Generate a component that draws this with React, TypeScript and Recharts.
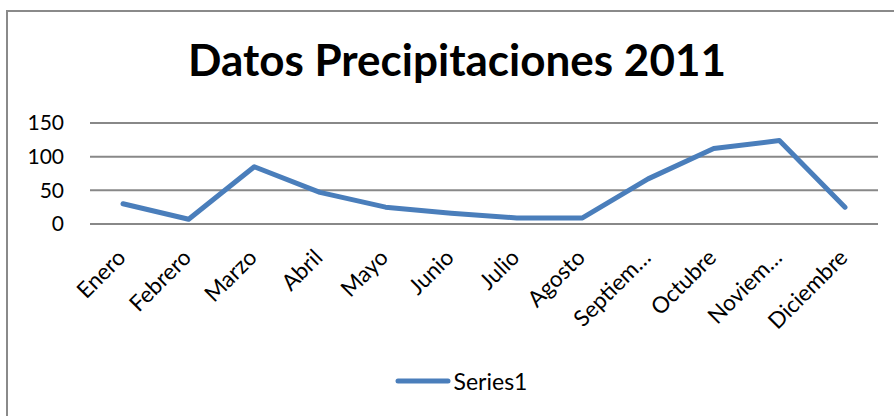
import React from 'react';
import { LineChart, Line, XAxis, YAxis, CartesianGrid, Legend } from 'recharts';

const months = ['Enero', 'Febrero', 'Marzo', 'Abril', 'Mayo', 'Junio', 'Julio', 'Agosto', 'Septiembre', 'Octubre', 'Noviembre', 'Diciembre'];
const tickLabels = ['Enero', 'Febrero', 'Marzo', 'Abril', 'Mayo', 'Junio', 'Julio', 'Agosto', 'Septiem…', 'Octubre', 'Noviem…', 'Diciembre'];
const series1 = [30, 7, 85, 47, 25, 16, 9, 9, 67, 112, 124, 25];
const yTicks = [0, 50, 100, 150];
const title = 'Datos Precipitaciones 2011';
const seriesName = 'Series1';

const data = months.map((m, i) => ({ month: m, label: tickLabels[i], Series1: series1[i] }));

const FONT = 'Lato, "Open Sans", sans-serif';
const BLUE = '#4a7ebb';
const GRID = '#888888';

const XTick = (props: any) => {
  const { x, y, index } = props;
  const ax = x + 4;
  const ay = y + 35;
  return (
    <text
      x={ax}
      y={ay}
      textAnchor="end"
      fontFamily={FONT}
      fontSize={22.5}
      fill="#000"
      transform={`rotate(-45 ${ax} ${ay})`}
    >
      {tickLabels[index]}
    </text>
  );
};

const LegendContent = () => (
  <div style={{ display: 'flex', alignItems: 'center', justifyContent: 'center', fontFamily: FONT, fontSize: 23, color: '#000' }}>
    <svg width={56} height={10} style={{ marginRight: 3 }}>
      <line x1={3} y1={5} x2={53} y2={5} stroke={BLUE} strokeWidth={5} strokeLinecap="round" />
    </svg>
    <span>{seriesName}</span>
  </div>
);

export default function App() {
  return (
    <div style={{ position: 'absolute', left: 0, top: 0, width: 894, height: 416, overflow: 'hidden', background: '#fff' }}>
      <div style={{ position: 'absolute', left: 6, top: 10, width: 900, height: 420, border: '2px solid #8a8a8a', boxSizing: 'border-box' }} />
      <div style={{ position: 'absolute', left: 0, top: 33, width: 914, textAlign: 'center', fontFamily: FONT, fontWeight: 700, fontSize: 44, color: '#000', lineHeight: '52px' }}>
        {title}
      </div>
      <div style={{ position: 'absolute', left: 0, top: 0 }}>
        <LineChart width={894} height={416} data={data} margin={{ top: 123, right: 16, bottom: 112, left: 30 }}>
          <CartesianGrid vertical={false} stroke={GRID} strokeWidth={2} />
          <XAxis
            dataKey="month"
            interval={0}
            height={80}
            padding={{ left: 33, right: 33 }}
            tickLine={false}
            tickSize={0}
            tickMargin={0}
            axisLine={{ stroke: GRID, strokeWidth: 2 }}
            tick={<XTick />}
          />
          <YAxis
            domain={[0, 150]}
            ticks={yTicks}
            width={60}
            axisLine={false}
            tickLine={false}
            tickMargin={20}
            tick={{ fontFamily: FONT, fontSize: 21, fill: '#000' }}
          />
          <Legend
            layout="horizontal"
            verticalAlign="middle"
            align="center"
            content={<LegendContent />}
            wrapperStyle={{ position: 'absolute', top: 367, left: 0, width: 922 }}
          />
          <Line
            type="linear"
            dataKey="Series1"
            name={seriesName}
            stroke={BLUE}
            strokeWidth={5}
            strokeLinecap="round"
            strokeLinejoin="round"
            dot={false}
            activeDot={false}
            isAnimationActive={false}
          />
        </LineChart>
      </div>
    </div>
  );
}
